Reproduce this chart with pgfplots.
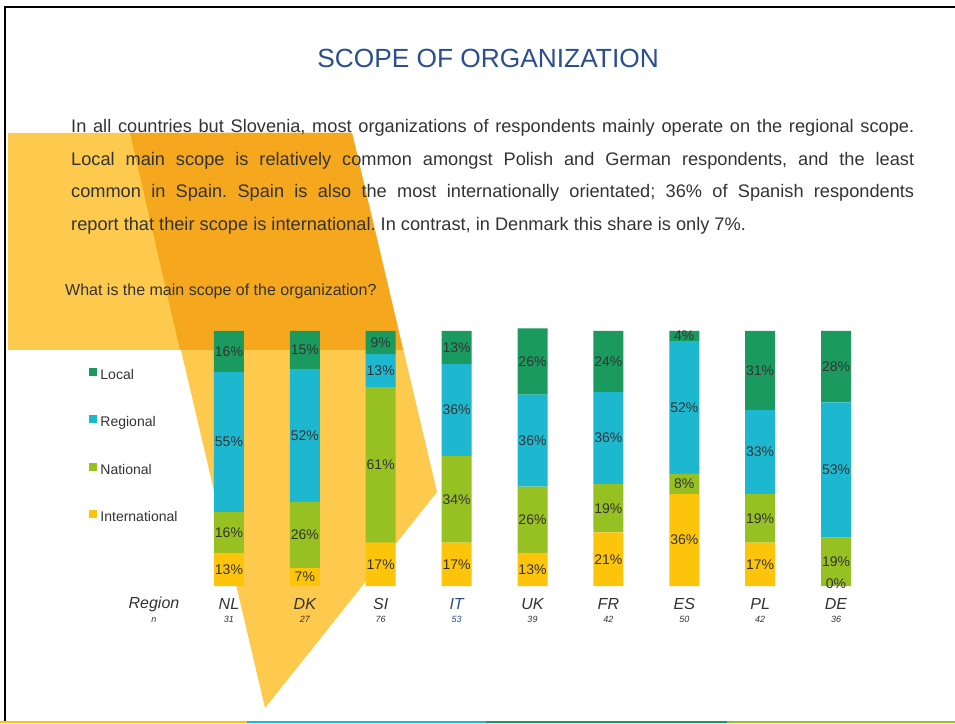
\documentclass[border=0pt]{standalone}
\usepackage{pgfplots}
\pgfplotsset{compat=1.18}
\usepackage{fontspec}
\setmainfont{Liberation Sans}
\definecolor{cLocal}{HTML}{1A9A5F}
\definecolor{cRegional}{HTML}{1DB8CF}
\definecolor{cNational}{HTML}{97C023}
\definecolor{cIntl}{HTML}{FCC50C}
\definecolor{txt}{HTML}{333333}
\definecolor{titleblue}{HTML}{2B4F8E}
\definecolor{lightyel}{HTML}{FDCA4E}
\definecolor{darkyel}{HTML}{F5A81E}

% 8x8 square legend marks, bottom on the text baseline
\pgfplotsset{
  sqleg/.style={legend image code/.code={\fill[##1,draw=none] (0pt,0pt) rectangle (8pt,8pt);}},
}

\begin{document}
\frenchspacing
\begin{tikzpicture}[x=1pt,y=1pt]
\useasboundingbox (0,0) rectangle (955,723);
\fill[white] (0,0) rectangle (955,723);

% decorative shapes behind the chart
\fill[lightyel] (8,590) -- (352,590) -- (403,373) -- (8,373) -- cycle;
\fill[lightyel] (130,590) -- (352,590) -- (437,231) -- (265,15) -- cycle;
\fill[darkyel] (130,590) -- (352,590) -- (403,373) -- (180,373) -- cycle;

% slide frame and bottom strip
\draw[black, line width=2pt] (5,0) -- (5,716) -- (955,716);
\fill[cIntl] (0,0) rectangle (247,2.5);
\fill[cRegional] (247,0) rectangle (486,2.5);
\fill[cLocal] (486,0) rectangle (727,2.5);
\fill[cNational] (727,0) rectangle (955,2.5);

\node[text=titleblue, font=\fontsize{26.3}{30}\selectfont, inner sep=0pt] at (488,665) {SCOPE OF ORGANIZATION};

\node[anchor=north west, inner sep=0pt, text width=843pt, align=justify, text=txt,
  font=\fontsize{18.2}{32.7}\selectfont] at (71,604)
  {In all countries but Slovenia, most organizations of respondents mainly operate on the regional scope.\linebreak
   Local main scope is relatively common amongst Polish and German respondents, and the least\linebreak
   common in Spain. Spain is also the most internationally orientated; 36\% of Spanish respondents\linebreak
   report that their scope is international. In contrast, in Denmark this share is only 7\%.};

\node[anchor=west, inner sep=0pt, text=txt, font=\fontsize{16}{18}\selectfont] at (65,432)
  {What is the main scope of the organization?};

\node[text=txt, font=\fontsize{16}{18}\selectfont\itshape] at (154,119) {Region};
\node[text=txt, font=\fontsize{9}{10}\selectfont\itshape] at (154,103) {n};

\begin{axis}[
  at={(191pt,137pt)}, anchor=south west,
  scale only axis, width=683pt, height=257.55pt,
  xmin=-0.5, xmax=8.5, ymin=0, ymax=101,
  clip=false,
  ybar stacked, bar width=30pt,
  axis line style={draw=none},
  ytick=\empty,
  xtick={0,...,8},
  major tick length=0pt,
  xticklabels={
    {NL\\[-3pt]{\fontsize{9}{10}\selectfont 31}},
    {DK\\[-3pt]{\fontsize{9}{10}\selectfont 27}},
    {SI\\[-3pt]{\fontsize{9}{10}\selectfont 76}},
    {\color{titleblue}IT\\[-3pt]{\color{titleblue}\fontsize{9}{10}\selectfont 53}},
    {UK\\[-3pt]{\fontsize{9}{10}\selectfont 39}},
    {FR\\[-3pt]{\fontsize{9}{10}\selectfont 42}},
    {ES\\[-3pt]{\fontsize{9}{10}\selectfont 50}},
    {PL\\[-3pt]{\fontsize{9}{10}\selectfont 42}},
    {DE\\[-3pt]{\fontsize{9}{10}\selectfont 36}}},
  xticklabel style={align=center, anchor=north, inner sep=0pt, yshift=-12.5pt,
    text=txt, font=\fontsize{16}{16}\selectfont\itshape},
  point meta=rawy,
  visualization depends on={value \thisrow{v} \as \segval},
  nodes near coords={\segval\%},
  nodes near coords align={center},
  every node near coord/.style={anchor=center,
    inner sep=0pt, text=txt, font=\fontsize{14}{14}\selectfont},
  legend style={at={(axis description cs:-0.149,0.541)}, anchor=west,
    draw=none, fill=none, text=txt, font=\fontsize{14}{14}\selectfont,
    row sep=32pt, inner sep=0pt,
    nodes={inner sep=1pt, text height=10pt, text depth=3pt},
    /tikz/every even column/.append style={column sep=0pt},
    /tikz/every odd column/.append style={column sep=2pt}},
  legend cell align=left,
  reverse legend,
  % the zero International share of DE sits under the National bar: repeat its label on top
  after end axis/.code={
    \node[anchor=center, inner sep=0pt, yshift=2pt, text=txt, font=\fontsize{14}{14}\selectfont]
      at (axis cs:8,0) {0\%};
  },
]
\addplot[fill=cIntl, draw=none, sqleg] table[x=x, y=v] {
x v
0 13
1 7
2 17
3 17
4 13
5 21
6 36
7 17
8 0
};
\addlegendentry{International}
\addplot[fill=cNational, draw=none, sqleg] table[x=x, y=v] {
x v
0 16
1 26
2 61
3 34
4 26
5 19
6 8
7 19
8 19
};
\addlegendentry{National}
\addplot[fill=cRegional, draw=none, sqleg] table[x=x, y=v] {
x v
0 55
1 52
2 13
3 36
4 36
5 36
6 52
7 33
8 53
};
\addlegendentry{Regional}
\addplot[fill=cLocal, draw=none, sqleg] table[x=x, y=v] {
x v
0 16
1 15
2 9
3 13
4 26
5 24
6 4
7 31
8 28
};
\addlegendentry{Local}
\end{axis}
\end{tikzpicture}
\end{document}
